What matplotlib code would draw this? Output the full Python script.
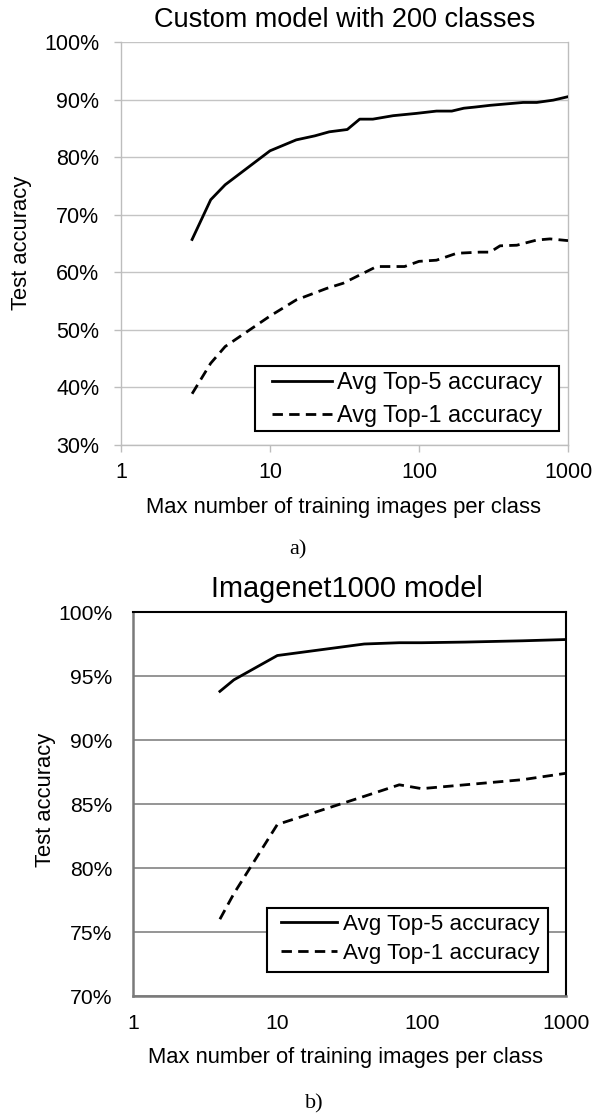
import matplotlib
matplotlib.use("Agg")
import matplotlib.pyplot as plt
from matplotlib.patches import Rectangle
from matplotlib.ticker import FuncFormatter, FixedLocator

plt.rcParams['font.family'] = ['Liberation Sans', 'DejaVu Sans']
plt.rcParams['lines.scale_dashes'] = False

# ---- data: custom model with 200 classes ----
a_top5_x = [3, 4, 5, 10, 15, 20, 25, 33, 40, 49, 67, 96, 131, 166, 200, 238, 300, 368, 500, 617, 796, 1000]
a_top5_y = [65.7, 72.6, 75.2, 81.1, 83.0, 83.7, 84.4, 84.8, 86.6, 86.6, 87.2, 87.6, 88.0, 88.0, 88.5, 88.7,
            89.0, 89.2, 89.5, 89.5, 89.9, 90.5]
a_top1_x = [3, 4, 5, 10, 15, 24, 31, 42, 52, 80, 100, 131, 179, 255, 300, 350, 453, 617, 757, 1000]
a_top1_y = [38.9, 44.2, 47.1, 52.4, 55.2, 57.2, 58.1, 59.8, 61.0, 61.0, 61.9, 62.1, 63.3, 63.5, 63.5,
            64.6, 64.7, 65.6, 65.8, 65.5]

# ---- data: Imagenet1000 model ----
b_x = [4, 5, 10, 20, 40, 70, 100, 200, 500, 1000]
b_top5_y = [93.8, 94.7, 96.6, 97.05, 97.5, 97.6, 97.6, 97.65, 97.75, 97.85]
b_top1_y = [76.0, 78.0, 83.4, 84.5, 85.6, 86.5, 86.2, 86.5, 86.9, 87.4]

a_yticks = [30, 40, 50, 60, 70, 80, 90, 100]
b_yticks = [70, 75, 80, 85, 90, 95, 100]
x_ticks = [1, 10, 100, 1000]
labels = ['Avg Top-5 accuracy', 'Avg Top-1 accuracy']

W, H = 609, 1117
fig = plt.figure(figsize=(W / 100, H / 100), dpi=100)


def px_axes(left, top, right, bottom):
    return fig.add_axes([left / W, 1 - bottom / H, (right - left) / W, (bottom - top) / H])


def ftext(x, y, s, **kw):
    fig.text(x / W, 1 - y / H, s, **kw)


def boxed_legend(handles, box, text_right, mid_y, **kw):
    """White box with a black frame, legend entries placed inside it."""
    l, t, r, b = box
    fig.add_artist(Rectangle((l / W, 1 - b / H), (r - l) / W, (b - t) / H,
                             transform=fig.transFigure, facecolor='white',
                             edgecolor='black', lw=1.5, zorder=4))
    fig.legend(handles, labels, loc='center right',
               bbox_to_anchor=(text_right / W, 1 - mid_y / H),
               bbox_transform=fig.transFigure, borderaxespad=0, borderpad=0,
               frameon=False, **kw).set_zorder(5)


pct = FuncFormatter(lambda v, p: f"{v:.0f}%")
plain = FuncFormatter(lambda v, p: f"{v:g}")
DASH = (0, (7.5, 4.5))

# ================= panel a =================
ax1 = px_axes(121, 42, 568, 445)
ax1.set_xscale('log')
ax1.set_xlim(1, 1000)
ax1.set_ylim(30, 100)
h5, = ax1.plot(a_top5_x, a_top5_y, color='black', lw=2.0, zorder=3)
h1, = ax1.plot(a_top1_x, a_top1_y, color='black', lw=2.0, linestyle=DASH, zorder=3)
ax1.yaxis.set_major_locator(FixedLocator(a_yticks))
ax1.xaxis.set_major_locator(FixedLocator(x_ticks))
ax1.xaxis.set_minor_locator(FixedLocator([]))
ax1.yaxis.set_major_formatter(pct)
ax1.xaxis.set_major_formatter(plain)
ax1.grid(axis='y', color='#c4c4c4', lw=1.0)
ax1.set_axisbelow(True)
for s in ['left', 'bottom', 'right']:
    ax1.spines[s].set_color('#bdbdbd')
    ax1.spines[s].set_linewidth(1.0)
ax1.spines['top'].set_visible(False)
ax1.tick_params(axis='both', color='#bdbdbd', length=5, width=1.0, labelsize=15.5)
ax1.tick_params(axis='y', pad=10.5)
ax1.tick_params(axis='x', pad=7)
boxed_legend([h5, h1], (255, 366, 559, 431), 542, 399, fontsize=16.8,
             handlelength=2.57, handletextpad=0.22, labelspacing=0.41)

ftext(345, 27, 'Custom model with 200 classes', ha='center', va='baseline', fontsize=19.5)
ftext(344, 513, 'Max number of training images per class', ha='center', va='baseline', fontsize=15.8)
ftext(22, 243, 'Test accuracy', ha='center', va='center', rotation=90, fontsize=15.8)
ftext(298, 554, 'a)', ha='center', va='baseline', fontsize=16, family='Liberation Serif')

# ================= panel b =================
ax2 = px_axes(133, 612, 566, 996)
ax2.set_xscale('log')
ax2.set_xlim(1, 1000)
ax2.set_ylim(70, 100)
g5, = ax2.plot(b_x, b_top5_y, color='black', lw=2.0, zorder=3)
g1, = ax2.plot(b_x, b_top1_y, color='black', lw=2.0, linestyle=DASH, zorder=3)
ax2.yaxis.set_major_locator(FixedLocator(b_yticks))
ax2.xaxis.set_major_locator(FixedLocator(x_ticks))
ax2.xaxis.set_minor_locator(FixedLocator([]))
ax2.yaxis.set_major_formatter(pct)
ax2.xaxis.set_major_formatter(plain)
ax2.grid(axis='y', color='#8c8c8c', lw=1.3)
ax2.set_axisbelow(True)
for s in ['left', 'bottom']:
    ax2.spines[s].set_color('#7a7a7a')
    ax2.spines[s].set_linewidth(1.8)
for s in ['top', 'right']:
    ax2.spines[s].set_color('black')
    ax2.spines[s].set_linewidth(1.5)
ax2.tick_params(axis='both', length=0, labelsize=15.2)
ax2.tick_params(axis='y', pad=15)
ax2.tick_params(axis='x', pad=13)
boxed_legend([g5, g1], (267, 908, 548, 972), 540, 939, fontsize=16.1,
             handlelength=2.5, handletextpad=0.3, labelspacing=0.38)

ftext(347, 597, 'Imagenet1000 model', ha='center', va='baseline', fontsize=20.8)
ftext(345, 1063, 'Max number of training images per class', ha='center', va='baseline', fontsize=15.8)
ftext(45, 800, 'Test accuracy', ha='center', va='center', rotation=90, fontsize=15.8)
ftext(314, 1108, 'b)', ha='center', va='baseline', fontsize=16, family='Liberation Serif')

fig.savefig('out.png', dpi=100, facecolor='white')
